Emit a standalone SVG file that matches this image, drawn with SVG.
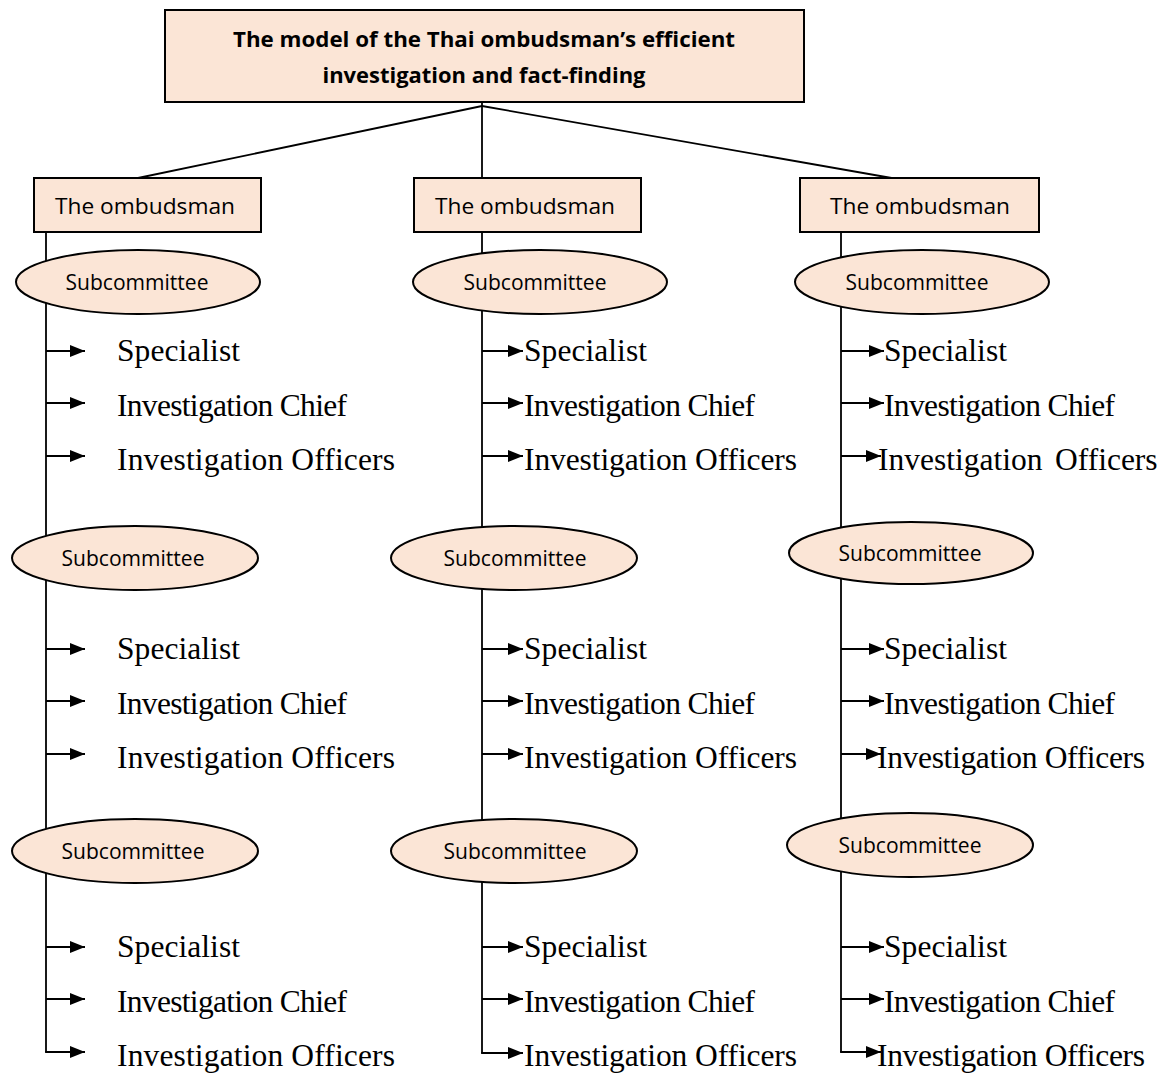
<svg xmlns="http://www.w3.org/2000/svg" width="1168" height="1075" viewBox="0 0 1168 1075">
  <defs>
    <marker id="head" markerUnits="userSpaceOnUse" markerWidth="16" markerHeight="13" refX="15" refY="6.5" orient="auto">
      <path d="M0,0.5 L15,6.5 L0,12.5 z" fill="#000"/>
    </marker>
    <style>
      .box { fill: #FBE5D6; stroke: #000; stroke-width: 2; }
      .wire { fill: none; stroke: #000; stroke-width: 1.8; }
      .arrow { fill: none; stroke: #000; stroke-width: 2; marker-end: url(#head); }
      .title { font-family: "Open Sans", "Liberation Sans", sans-serif; font-weight: bold; font-size: 22px; fill: #000; text-anchor: middle; }
      .lbl { font-family: "Open Sans", "Liberation Sans", sans-serif; font-size: 22.5px; fill: #000; text-anchor: middle; }
      .sub { font-family: "Open Sans", "Liberation Sans", sans-serif; font-size: 21.5px; fill: #000; text-anchor: middle; }
      .role { font-family: "Liberation Serif", "Times New Roman", serif; font-size: 31.5px; fill: #000; }
    </style>
  </defs>
  <rect width="1168" height="1075" fill="#fff"/>

  <!-- connectors: tree lines and spine arrows -->
  <g id="connectors">
    <path class="wire" d="M482,106 L138,178"/>
    <path class="wire" d="M482,102 L482,178"/>
    <path class="wire" d="M482,106 L903,180"/>

    <!-- spines -->
    <path class="wire" d="M46,232 V1052"/>
    <path class="wire" d="M482,232 V1053"/>
    <path class="wire" d="M841,232 V1052"/>

    <!-- left column -->
    <path class="arrow" d="M46,351 H85"/>
    <path class="arrow" d="M46,403 H85"/>
    <path class="arrow" d="M46,456 H85"/>
    <path class="arrow" d="M46,649 H85"/>
    <path class="arrow" d="M46,701 H85"/>
    <path class="arrow" d="M46,754 H85"/>
    <path class="arrow" d="M46,947 H85"/>
    <path class="arrow" d="M46,999 H85"/>
    <path class="arrow" d="M45.1,1052 H85"/>

    <!-- middle column -->
    <path class="arrow" d="M482,351 H523"/>
    <path class="arrow" d="M482,403 H523"/>
    <path class="arrow" d="M482,456 H523"/>
    <path class="arrow" d="M482,649 H523"/>
    <path class="arrow" d="M482,701 H523"/>
    <path class="arrow" d="M482,754 H523"/>
    <path class="arrow" d="M482,947 H523"/>
    <path class="arrow" d="M482,999 H523"/>
    <path class="arrow" d="M481.1,1053 H523"/>

    <!-- right column -->
    <path class="arrow" d="M841,351 H884"/>
    <path class="arrow" d="M841,403 H884"/>
    <path class="arrow" d="M841,456 H881"/>
    <path class="arrow" d="M841,649 H884"/>
    <path class="arrow" d="M841,701 H884"/>
    <path class="arrow" d="M841,754 H881"/>
    <path class="arrow" d="M841,947 H884"/>
    <path class="arrow" d="M841,999 H884"/>
    <path class="arrow" d="M840.1,1052 H881"/>
  </g>

  <!-- root -->
  <g id="model">
    <rect class="box" x="165" y="10" width="639" height="92"/>
    <text class="title" x="484" y="47" textLength="502" lengthAdjust="spacingAndGlyphs">The model of the Thai ombudsman’s efficient</text>
    <text class="title" x="484" y="83" textLength="323" lengthAdjust="spacingAndGlyphs">investigation and fact-finding</text>
  </g>

  <!-- ombudsman boxes -->
  <g id="ombudsman-1">
    <rect class="box" x="34" y="178" width="227" height="54"/>
    <text class="lbl" x="145" y="214" textLength="180" lengthAdjust="spacingAndGlyphs">The ombudsman</text>
  </g>
  <g id="ombudsman-2">
    <rect class="box" x="414" y="178" width="227" height="54"/>
    <text class="lbl" x="525" y="214" textLength="180" lengthAdjust="spacingAndGlyphs">The ombudsman</text>
  </g>
  <g id="ombudsman-3">
    <rect class="box" x="800" y="178" width="239" height="54"/>
    <text class="lbl" x="920" y="214" textLength="180" lengthAdjust="spacingAndGlyphs">The ombudsman</text>
  </g>

  <!-- subcommittees -->
  <g id="sub-1-1">
    <ellipse class="box" cx="138" cy="282" rx="122" ry="32"/>
    <text class="sub" x="137" y="290" textLength="143" lengthAdjust="spacingAndGlyphs">Subcommittee</text>
  </g>
  <g id="sub-1-2">
    <ellipse class="box" cx="135" cy="558" rx="123" ry="32"/>
    <text class="sub" x="133" y="566" textLength="143" lengthAdjust="spacingAndGlyphs">Subcommittee</text>
  </g>
  <g id="sub-1-3">
    <ellipse class="box" cx="135" cy="851" rx="123" ry="32"/>
    <text class="sub" x="133" y="859" textLength="143" lengthAdjust="spacingAndGlyphs">Subcommittee</text>
  </g>
  <g id="sub-2-1">
    <ellipse class="box" cx="540" cy="282" rx="127" ry="32"/>
    <text class="sub" x="535" y="290" textLength="143" lengthAdjust="spacingAndGlyphs">Subcommittee</text>
  </g>
  <g id="sub-2-2">
    <ellipse class="box" cx="514" cy="558" rx="123" ry="32"/>
    <text class="sub" x="515" y="566" textLength="143" lengthAdjust="spacingAndGlyphs">Subcommittee</text>
  </g>
  <g id="sub-2-3">
    <ellipse class="box" cx="514" cy="851" rx="123" ry="32"/>
    <text class="sub" x="515" y="859" textLength="143" lengthAdjust="spacingAndGlyphs">Subcommittee</text>
  </g>
  <g id="sub-3-1">
    <ellipse class="box" cx="922" cy="282" rx="127" ry="32"/>
    <text class="sub" x="917" y="290" textLength="143" lengthAdjust="spacingAndGlyphs">Subcommittee</text>
  </g>
  <g id="sub-3-2">
    <ellipse class="box" cx="911" cy="553" rx="122" ry="31"/>
    <text class="sub" x="910" y="561" textLength="143" lengthAdjust="spacingAndGlyphs">Subcommittee</text>
  </g>
  <g id="sub-3-3">
    <ellipse class="box" cx="910" cy="845" rx="123" ry="32"/>
    <text class="sub" x="910" y="853" textLength="143" lengthAdjust="spacingAndGlyphs">Subcommittee</text>
  </g>

  <!-- roles, left column -->
  <g id="roles-1">
    <text class="role" x="117" y="361" textLength="123">Specialist</text>
    <text class="role" x="117" y="416" textLength="230">Investigation Chief</text>
    <text class="role" x="117" y="470" textLength="278">Investigation Officers</text>
    <text class="role" x="117" y="659" textLength="123">Specialist</text>
    <text class="role" x="117" y="714" textLength="230">Investigation Chief</text>
    <text class="role" x="117" y="768" textLength="278">Investigation Officers</text>
    <text class="role" x="117" y="957" textLength="123">Specialist</text>
    <text class="role" x="117" y="1012" textLength="230">Investigation Chief</text>
    <text class="role" x="117" y="1066" textLength="278">Investigation Officers</text>
  </g>

  <!-- roles, middle column -->
  <g id="roles-2">
    <text class="role" x="524" y="361" textLength="123">Specialist</text>
    <text class="role" x="524" y="416" textLength="231">Investigation Chief</text>
    <text class="role" x="524" y="470" textLength="273">Investigation Officers</text>
    <text class="role" x="524" y="659" textLength="123">Specialist</text>
    <text class="role" x="524" y="714" textLength="231">Investigation Chief</text>
    <text class="role" x="524" y="768" textLength="273">Investigation Officers</text>
    <text class="role" x="524" y="957" textLength="123">Specialist</text>
    <text class="role" x="524" y="1012" textLength="231">Investigation Chief</text>
    <text class="role" x="524" y="1066" textLength="273">Investigation Officers</text>
  </g>

  <!-- roles, right column -->
  <g id="roles-3">
    <text class="role" x="884" y="361" textLength="123">Specialist</text>
    <text class="role" x="884" y="416" textLength="231">Investigation Chief</text>
    <text class="role" y="470"><tspan x="878">Investigation</tspan> <tspan x="1055">Officers</tspan></text>
    <text class="role" x="884" y="659" textLength="123">Specialist</text>
    <text class="role" x="884" y="714" textLength="231">Investigation Chief</text>
    <text class="role" x="877" y="768" textLength="268">Investigation Officers</text>
    <text class="role" x="884" y="957" textLength="123">Specialist</text>
    <text class="role" x="884" y="1012" textLength="231">Investigation Chief</text>
    <text class="role" x="877" y="1066" textLength="268">Investigation Officers</text>
  </g>
</svg>
